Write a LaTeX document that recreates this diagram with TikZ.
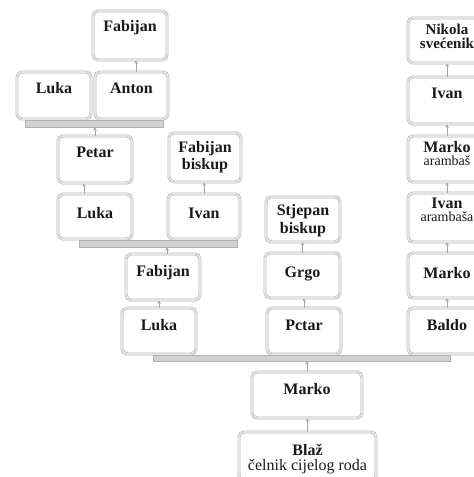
\documentclass[tikz,border=0pt]{standalone}
\usepackage{fontspec}
\setmainfont{Liberation Serif}
\usetikzlibrary{arrows.meta}
\tikzset{
  box/.style={draw=gray!60, double=gray!22, double distance=1.8pt, line width=0.55pt, rounded corners=5pt, fill=white, inner sep=0pt},
  barbox/.style={draw=gray!60, fill=gray!35, line width=0.5pt, inner sep=0pt},
  arr/.style={draw=gray!70, line width=0.9pt, -{Stealth[length=3.5pt,width=3.5pt]}},
  nm/.style={font=\bfseries\fontsize{16}{16}\selectfont, text=black!90, anchor=base, inner sep=0pt},
  nms/.style={font=\bfseries\fontsize{15}{15}\selectfont, text=black!90, anchor=base, inner sep=0pt},
  sub/.style={font=\fontsize{14}{14}\selectfont, text=black!90, anchor=base, inner sep=0pt},
  subb/.style={font=\fontsize{16}{16}\selectfont, text=black!90, anchor=base, inner sep=0pt},
}
\newcommand\gbox[6][box]{\node[#1, minimum width={(#5)-(#3)}, minimum height={(#6)-(#4)}] (#2) at ({((#3)+(#5))/2},{((#4)+(#6))/2}) {};}
\begin{document}
\begin{tikzpicture}[x=1pt,y=-1pt]
\useasboundingbox (0,0) rectangle (474,477);
\clip (0,0) rectangle (474,477);
\fill[white] (0,0) rectangle (474,477);
% boxes
\gbox{f1}{93}{11}{167}{60}
\gbox{l1}{17}{72}{91}{119}
\gbox{a1}{95}{72}{168}{119}
\gbox[barbox]{b1}{25}{120}{163}{127}
\gbox{p1}{58}{136}{132}{183}
\gbox{fb}{169}{133}{241}{182}
\gbox{l2}{58}{194}{132}{239}
\gbox{i1}{168}{194}{240}{239}
\gbox[barbox]{b2}{79}{240}{237}{247}
\gbox{f2}{126}{254}{200}{300}
\gbox{l3}{122}{308}{196}{354}
\gbox{sb}{266}{197}{340}{242}
\gbox{g}{265}{253}{340}{298}
\gbox{pc}{267}{308}{341}{354}
\gbox{n}{408}{18}{486}{63}
\gbox{i2}{408}{77}{486}{124}
\gbox{ma}{408}{136}{486}{182}
\gbox{ia}{408}{193}{486}{242}
\gbox{m2}{408}{253}{486}{298}
\gbox{bd}{408}{308}{486}{354}
\gbox[barbox]{b3}{153}{355}{450}{361}
\gbox{m3}{252}{372}{362}{418}
\gbox{bl}{239}{432}{376}{481}
% texts
\node[nm] (f1t) at (f1.north |- 0,31) {Fabijan};
\node[nm] (l1t) at (l1.north |- 0,93) {Luka};
\node[nm] (a1t) at (a1.north |- 0,93) {Anton};
\node[nm] (p1t) at (p1.north |- 0,157) {Petar};
\node[nm] (fbt) at (fb.north |- 0,152) {Fabijan};
\node[nm] (fbt2) at (fb.north |- 0,169) {biskup};
\node[nm] (l2t) at (l2.north |- 0,218) {Luka};
\node[nm] (i1t) at (i1.north |- 0,218) {Ivan};
\node[nm] (f2t) at (f2.north |- 0,276) {Fabijan};
\node[nm] (l3t) at (l3.north |- 0,330) {Luka};
\node[nm] (sbt) at (sb.north |- 0,215) {Stjepan};
\node[nm] (sbt2) at (sb.north |- 0,233) {biskup};
\node[nm] (gt) at (g.north |- 0,277) {Grgo};
\node[nm] (pct) at (pc.north |- 0,330) {Pctar};
\node[nms] (nt) at (n.north |- 0,34) {Nikola};
\node[nms] (nt2) at (n.north |- 0,48.5) {svećenik};
\node[nm] (i2t) at (i2.north |- 0,98) {Ivan};
\node[nm] (mat) at (ma.north |- 0,152) {Marko};
\node[sub] (mat2) at (ma.north |- 0,165) {arambaš};
\node[nm] (iat) at (ia.north |- 0,208) {Ivan};
\node[sub] (iat2) at (ia.north |- 0,221) {arambaša};
\node[nm] (m2t) at (m2.north |- 0,278) {Marko};
\node[nm] (bdt) at (bd.north |- 0,330) {Baldo};
\node[nm] (m3t) at (m3.north |- 0,394) {Marko};
\node[nm] (blt) at (bl.north |- 0,455) {Blaž};
\node[subb] (blt2) at (bl.north |- 0,470.5) {čelnik cijelog roda};
% arrows
\draw[arr] ([xshift=4.5pt]a1.north) -- ([xshift=4.5pt]a1.north |- f1.south);
\draw[arr] (p1.north) -- (p1.north |- b1.south);
\draw[arr] ([xshift=-11pt]l2.north) -- ([xshift=-11pt]l2.north |- p1.south);
\draw[arr] (i1.north) -- (i1.north |- fb.south);
\draw[arr] ([xshift=4pt]f2.north) -- ([xshift=4pt]f2.north |- b2.south);
\draw[arr] (l3.north) -- (l3.north |- f2.south);
\draw[arr] (pc.north) -- (pc.north |- g.south);
\draw[arr] (g.north) -- (g.north |- sb.south);
\draw[arr] (m3.north) -- (m3.north |- b3.south);
\draw[arr] (bl.north) -- (bl.north |- m3.south);
\draw[arr] (bd.north) -- (m2.south);
\draw[arr] (m2.north) -- (ia.south);
\draw[arr] (ia.north) -- (ma.south);
\draw[arr] (ma.north) -- (i2.south);
\draw[arr] (i2.north) -- (n.south);
\end{tikzpicture}
\end{document}
